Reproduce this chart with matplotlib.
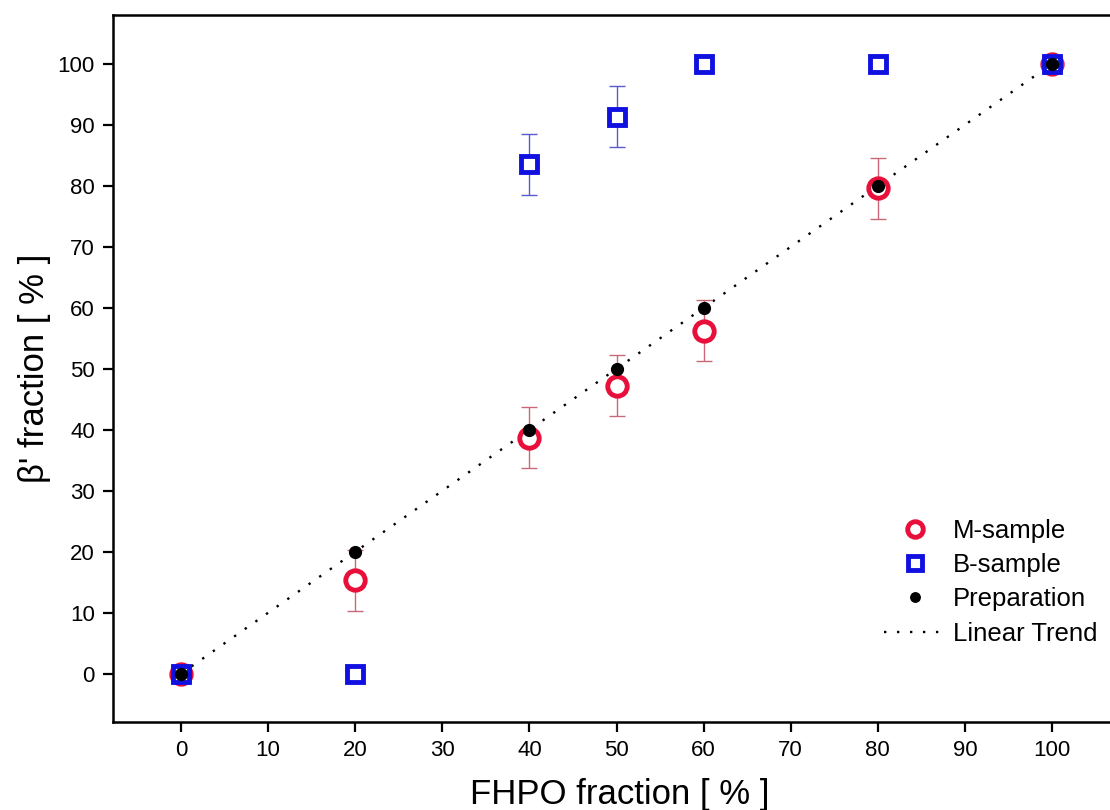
import matplotlib
matplotlib.use("Agg")
import matplotlib.pyplot as plt

plt.rcParams["font.family"] = ["Liberation Sans", "DejaVu Sans"]

# data
fhpo = [0, 20, 40, 50, 60, 80, 100]
m_sample = [0, 15.3, 38.7, 47.2, 56.2, 79.6, 100]
m_err = [0, 5, 5, 5, 5, 5, 0]
b_sample = [0, 0, 83.5, 91.3, 100, 100, 100]
b_err = [0, 0, 5, 5, 0, 0, 0]
preparation = [0, 20, 40, 50, 60, 80, 100]
trend_x = [0, 100]
trend_y = [0, 100]

fig = plt.figure(figsize=(11.1, 8.1), dpi=100)
# axes run a little past the right edge of the picture, as in the reference
ax = fig.add_axes([113 / 1110, 1 - 722 / 810, 1014 / 1110, 707 / 810])

ax.plot(trend_x, trend_y, color="black", linestyle=(0, (1, 4.5)), linewidth=1.7,
        label="Linear Trend", zorder=2)

ax.errorbar(fhpo, m_sample, yerr=m_err, fmt="none", ecolor="#c9687a", elinewidth=1,
            capsize=6, capthick=1, zorder=3)
ax.plot(fhpo, m_sample, "o", markersize=14, markerfacecolor="white",
        markeredgecolor="#e8103a", markeredgewidth=3.5, label="M-sample", zorder=4)

ax.errorbar(fhpo, b_sample, yerr=b_err, fmt="none", ecolor="#5a5ad0", elinewidth=1,
            capsize=6, capthick=1, zorder=3)
ax.plot(fhpo, b_sample, "s", markersize=12, markerfacecolor="white",
        markeredgecolor="#1010e0", markeredgewidth=3.5, label="B-sample", zorder=5)

ax.plot(fhpo, preparation, "o", markersize=8.5, color="black", label="Preparation", zorder=6)

ax.set_xlim(-7.8, 108.6)
ax.set_ylim(-7.9, 108)
ax.set_xticks(range(0, 101, 10))
ax.set_yticks(range(0, 101, 10))
ax.tick_params(direction="out", length=7, width=1.6, labelsize=16, pad=6)
for s in ax.spines.values():
    s.set_linewidth(1.8)

ax.set_xlabel("FHPO fraction [ % ]", fontsize=25, labelpad=12)
ax.set_ylabel("β' fraction [ % ]", fontsize=25, labelpad=5)

h, l = ax.get_legend_handles_labels()
order = [l.index(n) for n in ["M-sample", "B-sample", "Preparation", "Linear Trend"]]
ax.legend([h[i] for i in order], [l[i] for i in order], loc="upper left",
          bbox_to_anchor=((871 - 113) / 1014, (722 - 506) / 707),
          frameon=False, fontsize=18.5, handlelength=2.4, handletextpad=0.3,
          labelspacing=0.4, borderpad=0, markerscale=0.8)

fig.savefig("out.png", dpi=100)
